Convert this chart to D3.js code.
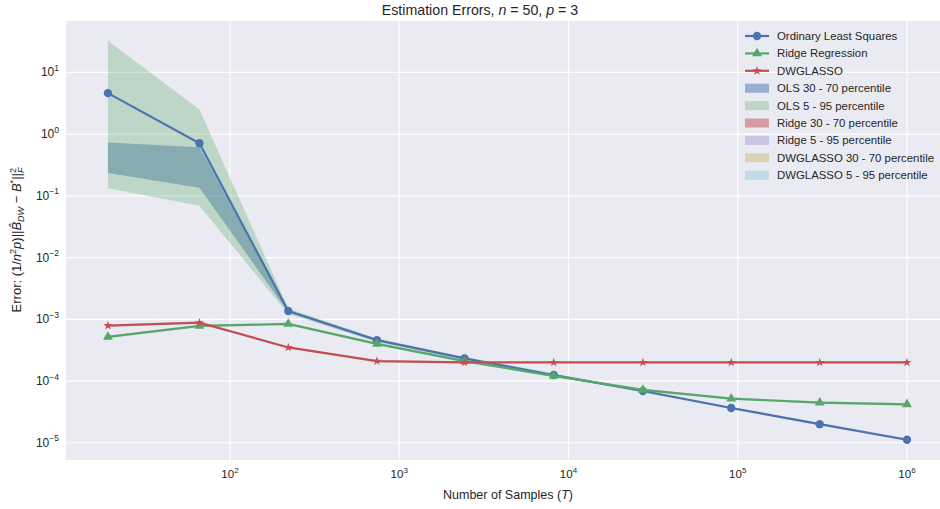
<!DOCTYPE html>
<html>
<head>
<meta charset="utf-8">
<script src="https://cdn.jsdelivr.net/npm/d3@7"></script>
<style>
body{margin:0;background:#fff;}
svg text{font-family:"Liberation Sans",Arial,sans-serif;fill:#262626;}
</style>
</head>
<body>
<svg id="chart" width="940" height="509"></svg>
<script>
// sample sizes T
let samples=[19,66,221,738,2430,8180,27500,91500,305000,1000000];

// median errors
let olsErr=[4.6,0.71,1.36e-3,4.6e-4,2.33e-4,1.25e-4,6.9e-5,3.66e-5,2.0e-5,1.12e-5];
let ridgeErr=[5.2e-4,7.8e-4,8.4e-4,4.0e-4,2.1e-4,1.21e-4,7.2e-5,5.2e-5,4.47e-5,4.2e-5];
let dwErr=[7.9e-4,8.8e-4,3.5e-4,2.1e-4,2.0e-4,2.0e-4,2.0e-4,2.0e-4,2.0e-4,2.0e-4];

// percentile bands
let olsP5=[0.132,0.069,1.22e-3,4.3e-4,2.2e-4,1.19e-4,6.6e-5,3.5e-5,1.92e-5,1.08e-5];
let olsP95=[32.5,2.5,1.5e-3,4.9e-4,2.45e-4,1.31e-4,7.2e-5,3.8e-5,2.08e-5,1.16e-5];
let olsP30=[0.234,0.135,1.3e-3,4.5e-4,2.28e-4,1.23e-4,6.8e-5,3.6e-5,1.97e-5,1.1e-5];
let olsP70=[0.73,0.61,1.42e-3,4.7e-4,2.38e-4,1.27e-4,7.0e-5,3.72e-5,2.03e-5,1.14e-5];
let ridgeP5=[5.0e-4,7.5e-4,8.1e-4,3.85e-4,2.02e-4,1.16e-4,6.9e-5,5.0e-5,4.3e-5,4.05e-5];
let ridgeP95=[5.4e-4,8.1e-4,8.7e-4,4.15e-4,2.18e-4,1.26e-4,7.5e-5,5.4e-5,4.64e-5,4.35e-5];
let ridgeP30=[5.1e-4,7.7e-4,8.3e-4,3.95e-4,2.07e-4,1.19e-4,7.1e-5,5.13e-5,4.42e-5,4.15e-5];
let ridgeP70=[5.3e-4,7.9e-4,8.5e-4,4.05e-4,2.13e-4,1.23e-4,7.3e-5,5.27e-5,4.52e-5,4.25e-5];
let dwP5=[7.6e-4,8.5e-4,3.37e-4,2.02e-4,1.93e-4,1.93e-4,1.93e-4,1.93e-4,1.93e-4,1.93e-4];
let dwP95=[8.2e-4,9.1e-4,3.63e-4,2.18e-4,2.07e-4,2.07e-4,2.07e-4,2.07e-4,2.07e-4,2.07e-4];
let dwP30=[7.8e-4,8.7e-4,3.46e-4,2.07e-4,1.97e-4,1.97e-4,1.97e-4,1.97e-4,1.97e-4,1.97e-4];
let dwP70=[8.0e-4,8.9e-4,3.54e-4,2.13e-4,2.03e-4,2.03e-4,2.03e-4,2.03e-4,2.03e-4,2.03e-4];

// axis limits and ticks
let xLim=[10.74,1567000];
let yLim=[5.26e-6,67.8];
let xTickExp=[2,3,4,5,6];
let yTickExp=[-5,-4,-3,-2,-1,0,1];

let legendNames=["Ordinary Least Squares","Ridge Regression","DWGLASSO","OLS 30 - 70 percentile","OLS 5 - 95 percentile","Ridge 30 - 70 percentile","Ridge 5 - 95 percentile","DWGLASSO 30 - 70 percentile","DWGLASSO 5 - 95 percentile"];

let blue="#4C72B0",green="#55A868",red="#C44E52",purple="#8172B2",yellow="#CCB974",cyan="#64B5CD";

let svg=d3.select("#chart");
let padL=66,padR=940,padT=21,padB=460;

let xScale=d3.scaleLog().domain(xLim).range([padL,padR]);
let yScale=d3.scaleLog().domain(yLim).range([padB,padT]);

svg.append("rect").attr("x",padL).attr("y",padT).attr("width",padR-padL).attr("height",padB-padT).attr("fill","#EAEAF2");

// grid
svg.selectAll(".xg").data(xTickExp).enter().append("line")
  .attr("x1",d=>xScale(Math.pow(10,d))).attr("x2",d=>xScale(Math.pow(10,d)))
  .attr("y1",padT).attr("y2",padB).attr("stroke","#fff").attr("stroke-width",1.2);
svg.selectAll(".yg").data(yTickExp).enter().append("line")
  .attr("y1",d=>yScale(Math.pow(10,d))).attr("y2",d=>yScale(Math.pow(10,d)))
  .attr("x1",padL).attr("x2",padR).attr("stroke","#fff").attr("stroke-width",1.2);

// tick labels
let xt=svg.selectAll(".xt").data(xTickExp).enter().append("text")
  .attr("x",d=>xScale(Math.pow(10,d))).attr("y",478).attr("text-anchor","middle").style("font-size","11.5px");
xt.append("tspan").text("10");
xt.append("tspan").attr("dy",-5).style("font-size","8px").text(d=>d);

let yt=svg.selectAll(".yt").data(yTickExp).enter().append("text")
  .attr("x",59).attr("y",d=>yScale(Math.pow(10,d))+4).attr("text-anchor","end").style("font-size","12px");
yt.append("tspan").text("10");
yt.append("tspan").attr("dy",-5.5).style("font-size","8.5px").text(d=>d<0?"\u2212"+(-d):d);

// bands (30-70 drawn first, 5-95 over it)
function band(lo,hi,col,op){
  let area=d3.area().x((d,i)=>xScale(samples[i])).y0((d,i)=>yScale(lo[i])).y1((d,i)=>yScale(hi[i]));
  svg.append("path").datum(samples).attr("d",area).attr("fill",col).attr("fill-opacity",op);
}
band(olsP30,olsP70,blue,0.5);
band(olsP5,olsP95,green,0.3);
band(ridgeP30,ridgeP70,red,0.5);
band(ridgeP5,ridgeP95,purple,0.3);
band(dwP30,dwP70,yellow,0.5);
band(dwP5,dwP95,cyan,0.3);

// lines
let series=[{v:olsErr,c:blue,m:d3.symbolCircle,s:55},{v:ridgeErr,c:green,m:d3.symbolTriangle,s:42},{v:dwErr,c:red,m:d3.symbolStar,s:26}];
let line=d3.line().x((d,i)=>xScale(samples[i])).y(d=>yScale(d));
series.forEach(s=>{
  svg.append("path").datum(s.v).attr("d",line).attr("fill","none").attr("stroke",s.c).attr("stroke-width",2.2);
  svg.selectAll(null).data(s.v).enter().append("path")
    .attr("d",d3.symbol().type(s.m).size(s.s))
    .attr("transform",(d,i)=>"translate("+xScale(samples[i])+","+yScale(d)+")")
    .attr("fill",s.c);
});

// legend
let lg=svg.append("g");
legendNames.forEach((name,i)=>{
  let y=36+i*17.4;
  if(i<3){
    let s=series[i];
    lg.append("line").attr("x1",745).attr("x2",769).attr("y1",y).attr("y2",y).attr("stroke",s.c).attr("stroke-width",2.2);
    lg.append("path").attr("d",d3.symbol().type(s.m).size(s.s)).attr("transform","translate(757,"+y+")").attr("fill",s.c);
  }else{
    let cols=[blue,green,red,purple,yellow,cyan];
    let ops=[0.5,0.3,0.5,0.3,0.5,0.3];
    lg.append("rect").attr("x",745).attr("y",y-4.5).attr("width",24).attr("height",9).attr("fill",cols[i-3]).attr("fill-opacity",ops[i-3]);
  }
  lg.append("text").attr("x",777).attr("y",y+4).style("font-size","11.4px").text(name);
});

// title
let tt=svg.append("text").attr("x",480).attr("y",15).attr("text-anchor","middle").style("font-size","14.2px");
tt.append("tspan").text("Estimation Errors, ");
tt.append("tspan").style("font-style","italic").text("n");
tt.append("tspan").text(" = 50, ");
tt.append("tspan").style("font-style","italic").text("p");
tt.append("tspan").text(" = 3");

// x label
let xl=svg.append("text").attr("x",508).attr("y",499).attr("text-anchor","middle").style("font-size","12.5px");
xl.append("tspan").text("Number of Samples (");
xl.append("tspan").style("font-style","italic").text("T");
xl.append("tspan").text(")");

// y label
let yl=svg.append("text").attr("transform","translate(21,240) rotate(-90)").attr("text-anchor","middle").style("font-size","13px");
yl.append("tspan").text("Error: (1/");
yl.append("tspan").style("font-style","italic").text("n");
yl.append("tspan").attr("dy",-5).style("font-size","9px").text("2");
yl.append("tspan").attr("dy",5).style("font-style","italic").text("p");
yl.append("tspan").text(")||");
yl.append("tspan").style("font-style","italic").text("B\u0302");
yl.append("tspan").attr("dy",3).style("font-size","9px").style("font-style","italic").text("DW");
yl.append("tspan").attr("dy",-3).text(" \u2212 ");
yl.append("tspan").style("font-style","italic").text("B");
yl.append("tspan").attr("dy",-5).style("font-size","9px").text("*");
yl.append("tspan").attr("dy",5).text("||");
yl.append("tspan").attr("dy",-5).style("font-size","9px").text("2");
yl.append("tspan").attr("dx",-5).attr("dy",8).style("font-size","9px").style("font-style","italic").text("F");
</script>
</body>
</html>
